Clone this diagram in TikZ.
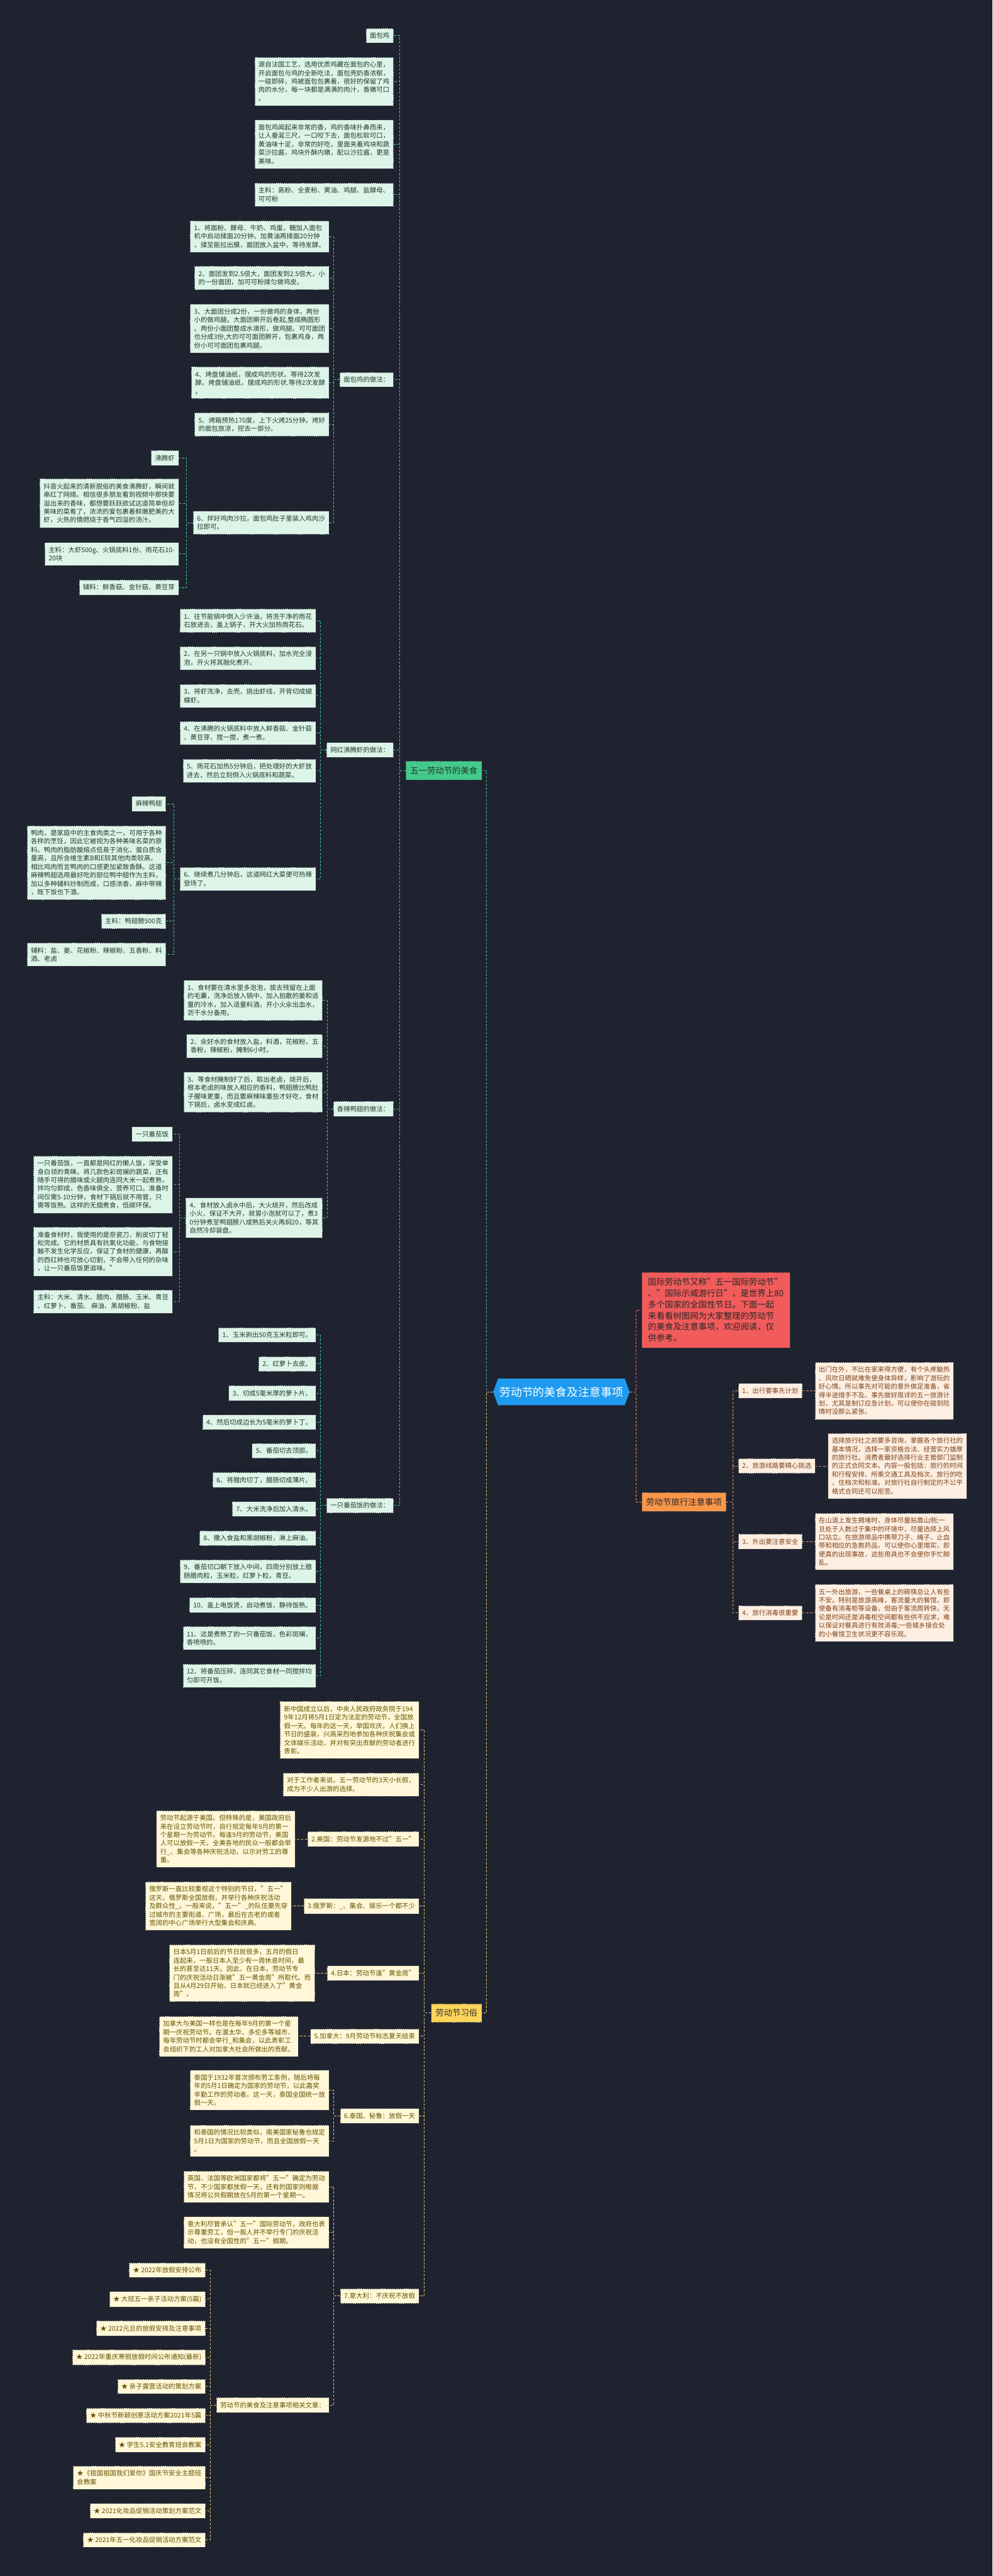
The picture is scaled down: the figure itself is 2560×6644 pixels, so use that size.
\documentclass[tikz,border=0pt]{standalone}
\usepackage{fontspec}
\setmainfont{Noto Sans CJK SC}
\usepackage{tikz}
\usetikzlibrary{positioning,shapes.symbols}

\definecolor{bgnavy}{HTML}{1F2330}
\definecolor{boxedge}{HTML}{3C4048}
\definecolor{mintfill}{HTML}{DDF5E9}
\definecolor{minttext}{HTML}{23392E}
\definecolor{creamfill}{HTML}{FFF7D8}
\definecolor{creamtext}{HTML}{665300}
\definecolor{peachfill}{HTML}{FDEEE2}
\definecolor{peachtext}{HTML}{7E4318}
\definecolor{rootblue}{HTML}{1E9AF0}
\definecolor{foodgreen}{HTML}{44C98B}
\definecolor{customgold}{HTML}{FFD45A}
\definecolor{introred}{HTML}{F25B5B}
\definecolor{travelorange}{HTML}{F9964A}
\definecolor{greenline}{HTML}{3CC79A}
\definecolor{goldline}{HTML}{E6C764}
\definecolor{orangeline}{HTML}{F0955A}
\definecolor{redline}{HTML}{E86A6A}

\tikzset{
  boxbase/.style={draw=boxedge, line width=0.4pt, dash pattern=on 1.5pt off 1pt,
    align=left, inner xsep=5pt, inner ysep=5.6pt, font=\fontsize{8.45}{10.9}\selectfont},
  greenbox/.style={boxbase, fill=mintfill, text=minttext},
  yellowbox/.style={boxbase, fill=creamfill, text=creamtext},
  peachbox/.style={boxbase, fill=peachfill, text=peachtext},
  headbase/.style={draw=boxedge, line width=0.4pt, dash pattern=on 1.5pt off 1pt,
    align=left, inner xsep=5.5pt, inner ysep=7pt, font=\fontsize{10.85}{14.4}\selectfont},
  gline/.style={draw=greenline, line width=0.8pt, dash pattern=on 3pt off 2pt},
  yline/.style={draw=goldline, line width=0.8pt, dash pattern=on 3pt off 2pt},
  oline/.style={draw=orangeline, line width=0.8pt, dash pattern=on 3pt off 2pt},
  rline/.style={draw=redline, line width=0.8pt, dash pattern=on 3pt off 2pt}
}

\begin{document}
\begin{tikzpicture}[x=0.5pt,y=-0.5pt]
\fill[bgnavy] (0,0) rectangle (2560,6644);
\useasboundingbox (0,0) rectangle (2560,6644);

% centre and main branches
\node[signal, signal to=west and east, signal pointer angle=140, fill=rootblue, text=white,
  inner xsep=2pt, inner ysep=10.3pt, font=\fontsize{14.5}{17}\selectfont] (root) at (1448,3590) {劳动节的美食及注意事项};
\node[headbase, fill=foodgreen, text=minttext, anchor=east] (food) at (1243,1987) {五一劳动节的美食};
\node[headbase, fill=customgold, text=black!80, anchor=east] (custom) at (1243,5192) {劳动节习俗};
\node[headbase, fill=introred, text=black!85, anchor=west, inner xsep=8pt, inner ysep=7.5pt] (intro) at (1655,3379)
  {国际劳动节又称"五一国际劳动节"\\、"国际示威游行日"，是世界上80\\多个国家的全国性节日。下面一起\\来看看树图网为大家整理的劳动节\\的美食及注意事项，欢迎阅读，仅\\供参考。};
\node[headbase, fill=travelorange, text=black!85, anchor=west] (travel) at (1655,3874) {劳动节旅行注意事项};

\draw[gline] (root.west) -- ++(-17,0) |- (food.east);
\draw[yline] (root.west) -- ++(-17,0) |- (custom.east);
\draw[rline] (root.east) -- ++(16,0) |- (intro.west);
\draw[oline] (root.east) -- ++(16,0) |- (travel.west);

% travel tips
\node[peachbox, anchor=west] (plan) at (1904,3587) {1、出行要事先计划};
\node[peachbox, anchor=west] (route) at (1904,3781) {2、旅游线路要精心挑选};
\node[peachbox, anchor=west] (safe) at (1904,3976) {3、外出要注意安全};
\node[peachbox, anchor=west] (clean) at (1904,4160) {4、旅行消毒很重要};
\node[peachbox, right=16pt of plan] (planD) {出门在外，不比在家来得方便，有个头疼脑热\\、风吹日晒就难免使身体异样，影响了游玩的\\好心情。所以事先对可能的意外做足准备，省\\得半途措手不及。事先做好周详的五一旅游计\\划，尤其是制订应急计划，可以使你在碰到险\\情时没那么紧张。};
\node[peachbox, right=16pt of route] (routeD) {选择旅行社之前要多咨询，掌握各个旅行社的\\基本情况，选择一家资格合法、经营实力雄厚\\的旅行社。消费者最好选择行业主管部门监制\\的正式合同文本。内容一般包括：旅行的时间\\和行程安排、所乘交通工具及档次。旅行的吃\\、住档次和标准。对旅行社自行制定的不公平\\格式合同还可以拒签。};
\node[peachbox, right=16pt of safe] (safeD) {在山道上发生拥堵时，身体尽量贴靠山侧;一\\旦处于人数过于集中的环境中，尽量选择上风\\口站立。在旅游用品中携带刀子、绳子、止血\\带和相应的急救药品，可以使你心里塌实，即\\使真的出现事故，这些用具也不会使你手忙脚\\乱。};
\node[peachbox, right=16pt of clean] (cleanD) {五一外出旅游，一些餐桌上的碗筷总让人有些\\不安。特别是旅游高峰，客流量大的餐馆，即\\使备有消毒柜等设备，但由于客流周转快，无\\论是时间还是消毒柜空间都有些供不应求，难\\以保证对餐具进行有效消毒;一些城乡接合处\\的小餐馆卫生状况更不容乐观。};
\foreach \kid in {plan,route,safe,clean}
  \draw[oline] (travel.east) -- ++(17,0) |- (\kid.west);
\foreach \kid in {plan,route,safe,clean}
  \draw[oline] (\kid.east) -- (\kid D.west);

% bread chicken
\node[greenbox, anchor=east] (bread) at (1015,92) {面包鸡};
\node[greenbox, anchor=east] (breadA) at (1015,210) {源自法国工艺，选用优质鸡藏在面包的心里，\\开启面包与鸡的全新吃法，面包壳奶香浓郁，\\一碰即碎，鸡被面包包裹着，很好的保留了鸡\\肉的水分，每一块都是满满的肉汁，香嫩可口\\。};
\node[greenbox, anchor=east] (breadB) at (1015,372) {面包鸡闻起来非常的香，鸡的香味扑鼻而来，\\让人垂涎三尺，一口咬下去，面包松软可口，\\黄油味十足，非常的好吃，里面夹着鸡块和蔬\\菜沙拉酱，鸡块外酥内嫩，配以沙拉酱，更是\\美味。};
\node[greenbox, anchor=east] (breadMain) at (1015,502) {主料：高粉、全麦粉、黄油、鸡腿、盐酵母、\\可可粉};
\node[greenbox, anchor=east] (breadHow) at (1015,979) {面包鸡的做法：};
\node[greenbox, anchor=east] (breadS1) at (849,610) {1、将面粉、酵母、牛奶、鸡蛋，糖加入面包\\机中启动揉面20分钟。加黄油再揉面20分钟\\，揉至能拉出膜，面团放入盆中，等待发酵。};
\node[greenbox, anchor=east] (breadS2) at (849,717) {2、面团发到2.5倍大，面团发到2.5倍大，小\\的一份面团，加可可粉揉匀做鸡皮。};
\node[greenbox, anchor=east] (breadS3) at (849,847) {3、大面团分成2份，一份做鸡的身体，两份\\小的做鸡腿。大面团擀开后卷起,整成椭圆形\\。两份小面团整成水滴形，做鸡腿。可可面团\\也分成3份,大的可可面团擀开，包裹鸡身，两\\份小可可面团包裹鸡腿。};
\node[greenbox, anchor=east] (breadS4) at (849,987) {4、烤盘铺油纸，摆成鸡的形状。等待2次发\\酵。烤盘铺油纸，摆成鸡的形状.等待2次发酵\\。};
\node[greenbox, anchor=east] (breadS5) at (849,1095) {5、烤箱预热170度，上下火烤25分钟。烤好\\的面包放凉，挖去一部分。};
\node[greenbox, anchor=east] (breadS6) at (849,1348) {6、拌好鸡肉沙拉，面包鸡肚子里装入鸡肉沙\\拉即可。};
\foreach \i in {1,...,6}
  \draw[gline] (breadHow.west) -- ++(-16,0) |- (breadS\i.east);

% boiling shrimp
\node[greenbox, anchor=east] (shrimp) at (461,1181) {沸腾虾};
\node[greenbox, anchor=east] (shrimpA) at (461,1298) {抖音火起来的清新脱俗的美食沸腾虾，瞬间就\\串红了网络。相信很多朋友看到视频中那快要\\溢出来的香味，都想要跃跃欲试这道简单但却\\美味的菜肴了，浓浓的爱包裹着鲜嫩肥美的大\\虾，火热的情燃烧于香气四溢的汤汁。};
\node[greenbox, anchor=east] (shrimpMain) at (461,1429) {主料：大虾500g、火锅底料1份、雨花石10-\\20块};
\node[greenbox, anchor=east] (shrimpSide) at (461,1515) {辅料：鲜香菇、金针菇、黄豆芽};
\foreach \kid in {shrimp,shrimpA,shrimpMain,shrimpSide}
  \draw[gline] (breadS6.west) -- ++(-17,0) |- (\kid.east);
\node[greenbox, anchor=east] (shrimpHow) at (1015,1934) {网红沸腾虾的做法：};
\node[greenbox, anchor=east] (shrimpS1) at (815,1601) {1、往节能锅中倒入少许油，将洗干净的雨花\\石放进去，盖上锅子，开大火加热雨花石。};
\node[greenbox, anchor=east] (shrimpS2) at (815,1698) {2、在另一只锅中放入火锅底料，加水完全浸\\泡，开火将其融化煮开。};
\node[greenbox, anchor=east] (shrimpS3) at (815,1795) {3、将虾洗净，去壳，挑出虾线，开背切成蝴\\蝶虾。};
\node[greenbox, anchor=east] (shrimpS4) at (815,1891) {4、在沸腾的火锅底料中放入鲜香菇、金针菇\\、黄豆芽，搅一搅，煮一煮。};
\node[greenbox, anchor=east] (shrimpS5) at (815,1988) {5、雨花石加热5分钟后，把处理好的大虾放\\进去，然后立刻倒入火锅底料和蔬菜。};
\node[greenbox, anchor=east] (shrimpS6) at (815,2267) {6、继续煮几分钟后，这道网红大菜便可热辣\\登场了。};
\foreach \i in {1,...,6}
  \draw[gline] (shrimpHow.west) -- ++(-15,0) |- (shrimpS\i.east);

% spicy duck wings
\node[greenbox, anchor=east] (duck) at (428,2073) {麻辣鸭翅};
\node[greenbox, anchor=east] (duckA) at (428,2225) {鸭肉，是家庭中的主食肉类之一，可用于各种\\各样的烹饪，因此它被视为各种美味名菜的原\\料。鸭肉的脂肪酸熔点低易于消化，蛋白质含\\量高，且所含维生素B和E较其他肉类较高，\\相比鸡肉而言鸭肉的口感更加紧致香酥。这道\\麻辣鸭翅选用最好吃的部位鸭中翅作为主料，\\加以多种辅料炒制而成，口感浓香，麻中带辣\\，既下饭也下酒。};
\node[greenbox, anchor=east] (duckMain) at (428,2376) {主料：鸭翅膀500克};
\node[greenbox, anchor=east] (duckSide) at (428,2462) {辅料：盐、姜、花椒粉、辣椒粉、五香粉、料\\酒、老卤};
\foreach \kid in {duck,duckA,duckMain,duckSide}
  \draw[gline] (shrimpS6.west) -- ++(-16,0) |- (\kid.east);
\node[greenbox, anchor=east] (duckHow) at (1015,2860) {香辣鸭翅的做法：};
\node[greenbox, anchor=east] (duckS1) at (832,2580) {1、食材要在清水里多泡泡，拔去残留在上面\\的毛囊，洗净后放入锅中，加入拍散的姜和适\\量的冷水，加入适量料酒，开小火汆出血水，\\沥干水分备用。};
\node[greenbox, anchor=east] (duckS2) at (832,2698) {2、汆好水的食材放入盐，料酒，花椒粉，五\\香粉，辣椒粉，腌制6小时。};
\node[greenbox, anchor=east] (duckS3) at (832,2817) {3、等食材腌制好了后，取出老卤，烧开后，\\根本老卤的味放入相应的香料，鸭翅膀比鸭肚\\子腥味更重，而且要麻辣味重些才好吃，食材\\下锅后，卤水变成红卤。};
\node[greenbox, anchor=east] (duckS4) at (832,3141) {4、食材放入卤水中后，大火烧开，然后改成\\小火，保证不大开，就冒小泡就可以了，煮3\\0分钟煮至鸭翅膀八成熟后关火再焖20，等其\\自然冷却装盘。};
\foreach \i in {1,...,4}
  \draw[gline] (duckHow.west) -- ++(-15,0) |- (duckS\i.east);

% tomato rice
\node[greenbox, anchor=east] (rice) at (445,2925) {一只番茄饭};
\node[greenbox, anchor=east] (riceA) at (445,3055) {一只番茄饭，一直都是网红的懒人饭，深受单\\身白领的青睐。将几款色彩斑斓的蔬菜，还有\\随手可得的腊味或火腿肉连同大米一起煮熟，\\拌均匀即成，色香味俱全，营养可口。准备时\\间仅需5-10分钟，食材下锅后就不用管，只\\需等饭熟。这样的无烟煮食，低碳环保。};
\node[greenbox, anchor=east] (riceB) at (445,3228) {准备食材时，我使用的是奈瓷刀，削皮切丁轻\\松完成。它的材质具有抗氧化功能，与食物接\\触不发生化学反应，保证了食材的健康，再酸\\的西红柿也可放心切割，不会带入任何的杂味\\，让一只番茄饭更滋味。"};
\node[greenbox, anchor=east] (riceMain) at (445,3357) {主料：大米、清水、腊肉、腊肠、玉米、青豆\\、红萝卜、番茄、 麻油、黑胡椒粉、盐};
\foreach \kid in {rice,riceA,riceB,riceMain}
  \draw[gline] (duckS4.west) -- ++(-16,0) |- (\kid.east);
\node[greenbox, anchor=east] (riceHow) at (1015,3883) {一只番茄饭的做法：};
\node[greenbox, anchor=east] (riceS1) at (815,3443) {1、玉米剥出50克玉米粒即可。};
\node[greenbox, anchor=east] (riceS2) at (815,3518) {2、红萝卜去皮。};
\node[greenbox, anchor=east] (riceS3) at (815,3593) {3、切成5毫米厚的萝卜片。};
\node[greenbox, anchor=east] (riceS4) at (815,3668) {4、然后切成边长为5毫米的萝卜丁。};
\node[greenbox, anchor=east] (riceS5) at (815,3742) {5、番茄切去顶部。};
\node[greenbox, anchor=east] (riceS6) at (815,3817) {6、将腊肉切丁，腊肠切成薄片。};
\node[greenbox, anchor=east] (riceS7) at (815,3892) {7、大米洗净后加入清水。};
\node[greenbox, anchor=east] (riceS8) at (815,3967) {8、撒入食盐和黑胡椒粉，淋上麻油。};
\node[greenbox, anchor=east] (riceS9) at (815,4053) {9、番茄切口朝下放入中间，四周分别放上腊\\肠腊肉粒，玉米粒，红萝卜粒，青豆。};
\node[greenbox, anchor=east] (riceS10) at (815,4140) {10、盖上电饭煲，启动煮饭，静待饭熟。};
\node[greenbox, anchor=east] (riceS11) at (815,4225) {11、这是煮熟了的一只番茄饭，色彩斑斓，\\香喷喷的。};
\node[greenbox, anchor=east] (riceS12) at (815,4322) {12、将番茄压碎，连同其它食材一同搅拌均\\匀即可开饭。};
\foreach \i in {1,...,12}
  \draw[gline] (riceHow.west) -- ++(-15,0) |- (riceS\i.east);

\foreach \kid in {bread,breadA,breadB,breadMain,breadHow,shrimpHow,duckHow,riceHow}
  \draw[gline] (food.west) -- ++(-15,0) |- (\kid.east);

% customs
\node[yellowbox, anchor=east] (china1) at (1081,4462) {新中国成立以后，中央人民政府政务院于194\\9年12月将5月1日定为法定的劳动节，全国放\\假一天。每年的这一天，举国欢庆，人们换上\\节日的盛装，兴高采烈地参加各种庆祝集会或\\文体娱乐活动，并对有突出贡献的劳动者进行\\表彰。};
\node[yellowbox, anchor=east] (china2) at (1081,4603) {对于工作者来说，五一劳动节的3天小长假，\\成为不少人出游的选择。};
\node[yellowbox, anchor=east] (usa) at (1081,4743) {2.美国：劳动节发源地不过"五一"};
\node[yellowbox, left=15.5pt of usa] (usaD) {劳动节起源于美国。但特殊的是，美国政府后\\来在设立劳动节时，自行规定每年9月的第一\\个星期一为劳动节。每逢9月的劳动节，美国\\人可以放假一天，全美各地的民众一般都会举\\行\_、集会等各种庆祝活动，以示对劳工的尊\\重。};
\node[yellowbox, anchor=east] (russia) at (1081,4916) {3.俄罗斯：\_、集会、娱乐一个都不少};
\node[yellowbox, left=15.5pt of russia] (russiaD) {俄罗斯一直比较重视这个特别的节日，"五一"\\这天，俄罗斯全国放假，并举行各种庆祝活动\\及群众性\_。一般来说，"五一"\_的队伍要先穿\\过城市的主要街道、广场，最后在古老的或者\\宽阔的中心广场举行大型集会和庆典。};
\node[yellowbox, anchor=east] (japan) at (1081,5089) {4.日本：劳动节逢"黄金周"};
\node[yellowbox, left=15.5pt of japan] (japanD) {日本5月1日前后的节日就很多，五月的假日\\连起来，一般日本人至少有一周休息时间，最\\长的甚至达11天。因此，在日本，劳动节专\\门的庆祝活动日渐被"五一黄金周"所取代。而\\且从4月29日开始，日本就已经进入了"黄金\\周"。};
\node[yellowbox, anchor=east] (canada) at (1081,5252) {5.加拿大：9月劳动节标志夏天结束};
\node[yellowbox, left=15.5pt of canada] (canadaD) {加拿大与美国一样也是在每年9月的第一个星\\期一庆祝劳动节。在渥太华、多伦多等城市，\\每年劳动节时都会举行\_和集会，以此表彰工\\会组织下的工人对加拿大社会所做出的贡献。};
\node[yellowbox, anchor=east] (thai) at (1081,5457) {6.泰国、秘鲁：放假一天};
\node[yellowbox, anchor=east] (thaiA) at (849,5391) {泰国于1932年首次颁布劳工条例，随后将每\\年的5月1日确定为国家的劳动节，以此嘉奖\\辛勤工作的劳动者。这一天，泰国全国统一放\\假一天。};
\node[yellowbox, anchor=east] (thaiB) at (849,5522) {和泰国的情况比较类似，南美国家秘鲁也规定\\5月1日为国家的劳动节，而且全国放假一天\\。};
\node[yellowbox, anchor=east] (italy) at (1081,5922) {7.意大利：不庆祝不放假};
\node[yellowbox, anchor=east] (italyA) at (849,5640) {英国、法国等欧洲国家都将"五一"确定为劳动\\节，不少国家都放假一天，还有的国家则根据\\情况将公共假期放在5月的第一个星期一。};
\node[yellowbox, anchor=east] (italyB) at (849,5758) {意大利尽管承认"五一"国际劳动节，政府也表\\示尊重劳工，但一般人并不举行专门的庆祝活\\动，也没有全国性的"五一"假期。};
\node[yellowbox, anchor=east] (links) at (849,6203) {劳动节的美食及注意事项相关文章：};
\node[yellowbox, anchor=east] (link1) at (530,5855) {★ 2022年放假安排公布};
\node[yellowbox, anchor=east] (link2) at (530,5930) {★ 大班五一亲子活动方案(5篇)};
\node[yellowbox, anchor=east] (link3) at (530,6005) {★ 2022元旦的放假安排及注意事项};
\node[yellowbox, anchor=east] (link4) at (530,6080) {★ 2022年重庆寒假放假时间公布通知(最新)};
\node[yellowbox, anchor=east] (link5) at (530,6155) {★ 亲子露营活动的策划方案};
\node[yellowbox, anchor=east] (link6) at (530,6230) {★ 中秋节新颖创意活动方案2021年5篇};
\node[yellowbox, anchor=east] (link7) at (530,6305) {★ 学生5.1安全教育班会教案};
\node[yellowbox, anchor=east] (link8) at (530,6390) {★《祖国祖国我们爱你》国庆节安全主题班\\会教案};
\node[yellowbox, anchor=east] (link9) at (530,6476) {★ 2021化妆品促销活动策划方案范文};
\node[yellowbox, anchor=east] (link10) at (530,6551) {★ 2021年五一化妆品促销活动方案范文};

\foreach \kid in {china1,china2,usa,russia,japan,canada,thai,italy}
  \draw[yline] (custom.west) -- ++(-17,0) |- (\kid.east);
\foreach \kid in {usa,russia,japan,canada}
  \draw[yline] (\kid.west) -- (\kid D.east);
\foreach \kid in {thaiA,thaiB}
  \draw[yline] (thai.west) -- ++(-16,0) |- (\kid.east);
\foreach \kid in {italyA,italyB,links}
  \draw[yline] (italy.west) -- ++(-16,0) |- (\kid.east);
\foreach \i in {1,...,10}
  \draw[yline] (links.west) -- ++(-16,0) |- (link\i.east);
\end{tikzpicture}
\end{document}
